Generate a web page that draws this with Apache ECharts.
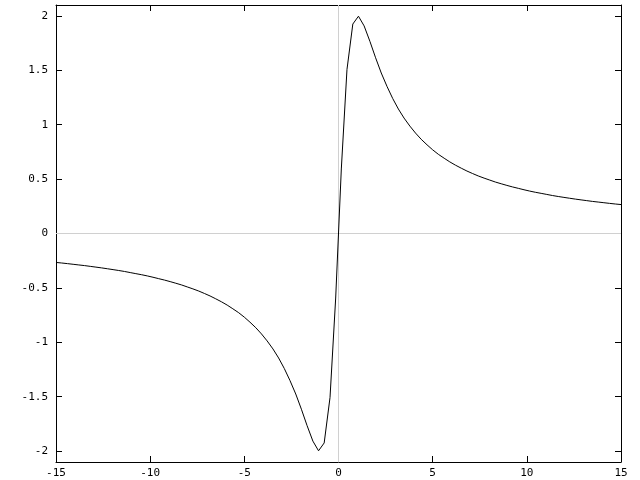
<!DOCTYPE html>
<html>
<head>
<meta charset="utf-8">
<script src="https://cdn.jsdelivr.net/npm/echarts@6/dist/echarts.min.js"></script>
<style>html,body{margin:0;padding:0;background:#fff}#c{width:640px;height:480px}</style>
</head>
<body>
<div id="c"></div>
<script>
const xValues = [-15.00,-14.70,-14.39,-14.09,-13.79,-13.48,-13.18,-12.88,-12.58,-12.27,-11.97,-11.67,-11.36,-11.06,-10.76,-10.45,-10.15,-9.85,-9.55,-9.24,-8.94,-8.64,-8.33,-8.03,-7.73,-7.42,-7.12,-6.82,-6.52,-6.21,-5.91,-5.61,-5.30,-5.00,-4.70,-4.39,-4.09,-3.79,-3.48,-3.18,-2.88,-2.58,-2.27,-1.97,-1.67,-1.36,-1.06,-0.76,-0.45,-0.15,
0.15,0.45,0.76,1.06,1.36,1.67,1.97,2.27,2.58,2.88,3.18,3.48,3.79,4.09,4.39,4.70,5.00,5.30,5.61,5.91,6.21,6.52,6.82,7.12,7.42,7.73,8.03,8.33,8.64,8.94,9.24,9.55,9.85,10.15,10.45,10.76,11.06,11.36,11.67,11.97,12.27,12.58,12.88,13.18,13.48,13.79,14.09,14.39,14.70,15.00];
const yValues = [-0.266,-0.271,-0.277,-0.283,-0.289,-0.295,-0.302,-0.309,-0.316,-0.324,-0.332,-0.340,-0.349,-0.359,-0.369,-0.379,-0.390,-0.402,-0.415,-0.428,-0.442,-0.457,-0.473,-0.491,-0.509,-0.529,-0.551,-0.574,-0.600,-0.628,-0.658,-0.692,-0.728,-0.769,-0.815,-0.866,-0.923,-0.987,-1.061,-1.144,-1.240,-1.350,-1.475,-1.615,-1.765,-1.908,-1.997,-1.925,-1.507,-0.593,
0.593,1.507,1.925,1.997,1.908,1.765,1.615,1.475,1.350,1.240,1.144,1.061,0.987,0.923,0.866,0.815,0.769,0.728,0.692,0.658,0.628,0.600,0.574,0.551,0.529,0.509,0.491,0.473,0.457,0.442,0.428,0.415,0.402,0.390,0.379,0.369,0.359,0.349,0.340,0.332,0.324,0.316,0.309,0.302,0.295,0.289,0.283,0.277,0.271,0.266];
const xTicks = [-15,-10,-5,0,5,10,15];
const yTicks = [-2,-1.5,-1,-0.5,0,0.5,1,1.5,2];

const font = {fontFamily:'DejaVu Sans Mono', fontSize:11, color:'#000'};
const axLine = {show:true, onZero:false, lineStyle:{color:'#000', width:1}};
const tick = {show:true, inside:true, length:6, lineStyle:{color:'#000', width:1}};

const chart = echarts.init(document.getElementById('c'), null, {renderer:'canvas'});
chart.setOption({
  animation:false,
  backgroundColor:'#fff',
  grid:{left:56, right:19, top:5, bottom:18, containLabel:false},
  xAxis:[
    {type:'value', min:-15, max:15, interval:5, position:'bottom',
     axisLine:axLine, axisTick:tick, splitLine:{show:false},
     axisLabel:Object.assign({margin:6, showMinLabel:true, showMaxLabel:true}, font)},
    {type:'value', min:-15, max:15, interval:5, position:'top',
     axisLine:axLine, axisTick:tick, splitLine:{show:false}, axisLabel:{show:false}}
  ],
  yAxis:[
    {type:'value', min:-2.1, max:2.1, position:'left',
     axisLine:axLine,
     axisTick:Object.assign({customValues:yTicks}, tick),
     splitLine:{show:false},
     axisLabel:Object.assign({margin:8, customValues:yTicks}, font)},
    {type:'value', min:-2.1, max:2.1, position:'right',
     axisLine:axLine,
     axisTick:Object.assign({customValues:yTicks}, tick),
     splitLine:{show:false}, axisLabel:{show:false}}
  ],
  series:[{
    type:'line',
    data:xValues.map((x,i)=>[x, yValues[i]]),
    showSymbol:false, symbol:'none', smooth:false,
    lineStyle:{color:'#000', width:1},
    markLine:{
      silent:true, symbol:'none', label:{show:false}, z:1,
      lineStyle:{color:'#d0d0d0', type:'solid', width:1},
      data:[{xAxis:0},{yAxis:0}]
    }
  }]
});
</script>
</body>
</html>
